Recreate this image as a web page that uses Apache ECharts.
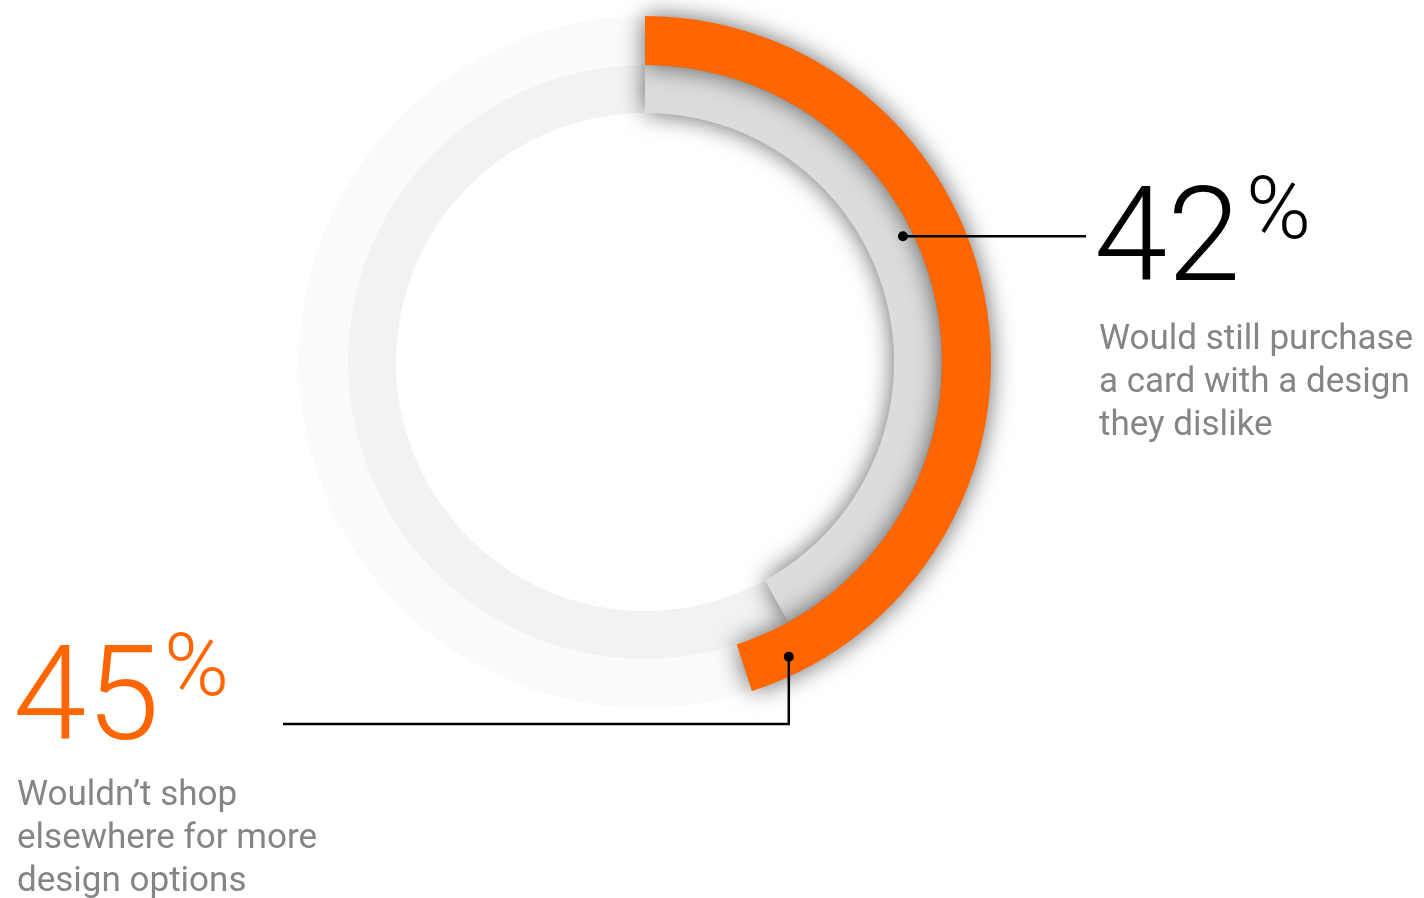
<!DOCTYPE html>
<html>
<head>
<meta charset="utf-8">
<title>Card design survey</title>
<script src="https://cdn.jsdelivr.net/npm/echarts@6/dist/echarts.min.js"></script>
<style>
  html, body { margin: 0; padding: 0; background: #fff; }
  #chart { width: 1424px; height: 898px; }
</style>
</head>
<body>
<div id="chart"></div>
<script>
// survey answers, percent of respondents
const innerLabel = 'Would still purchase\na card with a design\nthey dislike'
const outerLabel = 'Wouldn\u2019t shop\nelsewhere for more\ndesign options'
const innerShare = 42
const outerShare = 45

const ORANGE = '#ff6600'
const GRAY = '#dcdcdc'
const FONT = "'Roboto', 'Helvetica Neue', 'Liberation Sans', sans-serif"

const chart = echarts.init(document.getElementById('chart'))

const cx = 645
const cy = 362
const innerRadius = [249, 297]
const outerRadius = [297, 346]

// point on the ring at a given angle (deg, clockwise from 12 o'clock)
function ringPoint (angle, r) {
  const a = angle * Math.PI / 180
  return [cx + r * Math.sin(a), cy - r * Math.cos(a)]
}

const dot42 = ringPoint(64, 287)
const dot45 = ringPoint(154, 328)

function ring (radius, color, z) {
  return {
    type: 'pie',
    silent: true,
    z: z,
    center: [cx, cy],
    radius: radius,
    label: { show: false },
    labelLine: { show: false },
    emphasis: { disabled: true },
    itemStyle: { color: color, borderWidth: 0 },
    data: [{ value: 1 }]
  }
}

function arc (radius, value, color, z) {
  return {
    type: 'pie',
    silent: true,
    z: z,
    center: [cx, cy],
    radius: radius,
    startAngle: 90,
    clockwise: true,
    label: { show: false },
    labelLine: { show: false },
    emphasis: { disabled: true },
    data: [
      {
        value: value,
        itemStyle: {
          color: color,
          borderWidth: 0,
          shadowBlur: 24,
          shadowColor: 'rgba(0,0,0,0.6)'
        }
      },
      {
        value: 100 - value,
        itemStyle: { color: 'rgba(0,0,0,0)', borderWidth: 0 }
      }
    ]
  }
}

chart.setOption({
  animation: false,
  backgroundColor: '#fff',
  series: [
    ring(outerRadius, '#fafafa', 1),
    ring(innerRadius, '#f2f2f2', 1),
    arc(innerRadius, innerShare, GRAY, 2),
    arc(outerRadius, outerShare, ORANGE, 3)
  ],
  graphic: [
    {
      type: 'polyline',
      z: 10,
      shape: { points: [dot42, [1086, dot42[1]]] },
      style: { stroke: '#000', lineWidth: 2.5, fill: null }
    },
    {
      type: 'circle',
      z: 10,
      shape: { cx: dot42[0], cy: dot42[1], r: 5 },
      style: { fill: '#000' }
    },
    {
      type: 'polyline',
      z: 10,
      shape: { points: [dot45, [dot45[0], 724], [283, 724]] },
      style: { stroke: '#000', lineWidth: 2.5, fill: null }
    },
    {
      type: 'circle',
      z: 10,
      shape: { cx: dot45[0], cy: dot45[1], r: 5 },
      style: { fill: '#000' }
    },
    {
      type: 'text',
      z: 10,
      style: {
        x: 1094, y: 247, text: String(innerShare),
        font: '300 132px ' + FONT, fill: '#000', verticalAlign: 'middle'
      }
    },
    {
      type: 'text',
      z: 10,
      style: {
        x: 1246, y: 216, text: '%',
        font: '300 88px ' + FONT, fill: '#000', verticalAlign: 'middle'
      }
    },
    {
      type: 'text',
      z: 10,
      style: {
        x: 1099, y: 319, text: innerLabel,
        font: '35px ' + FONT, fill: '#858585', lineHeight: 43, verticalAlign: 'top'
      }
    },
    {
      type: 'text',
      z: 10,
      style: {
        x: 13, y: 706, text: String(outerShare),
        font: '300 132px ' + FONT, fill: ORANGE, verticalAlign: 'middle'
      }
    },
    {
      type: 'text',
      z: 10,
      style: {
        x: 164, y: 673, text: '%',
        font: '300 88px ' + FONT, fill: ORANGE, verticalAlign: 'middle'
      }
    },
    {
      type: 'text',
      z: 10,
      style: {
        x: 17, y: 775, text: outerLabel,
        font: '35px ' + FONT, fill: '#858585', lineHeight: 43, verticalAlign: 'top'
      }
    }
  ]
})
</script>
</body>
</html>
